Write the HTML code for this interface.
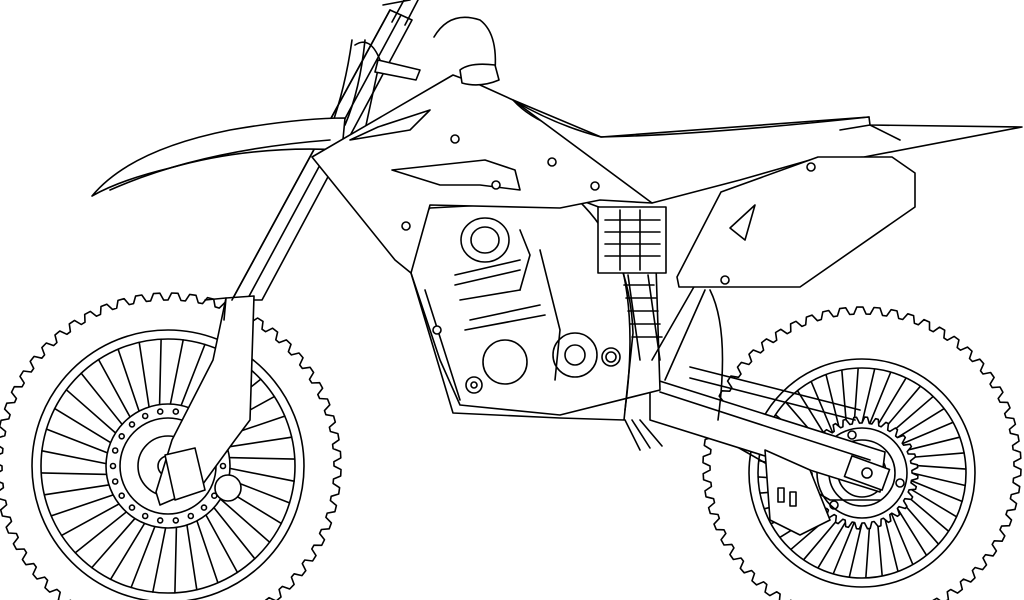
<!DOCTYPE html>
<html><head><meta charset="utf-8"><style>
html,body{margin:0;padding:0;background:#fff;width:1024px;height:600px;overflow:hidden}
svg{display:block}
</style></head><body>
<svg id="s" width="1024" height="600" viewBox="0 0 1024 600" fill="none" stroke="#000" stroke-width="1.6" stroke-linejoin="round" stroke-linecap="round">
<g id="fw"></g>
<g transform="translate(168,466)">
<circle r="136"/>
<circle r="127"/>
<g id="fsp"></g>
<circle r="62" fill="#fff"/><circle r="48"/><circle r="30"/>
<g id="fholes"></g>
<circle r="10" fill="#fff"/>
</g>
<g id="rw"></g>
<g transform="translate(862,473)">
<ellipse rx="113" ry="114"/>
<ellipse rx="104" ry="105"/>
<g id="rsp"></g>
<g id="rspr"></g>
<circle r="45" fill="#fff"/><circle r="33"/><circle r="24"/>
<circle cx="-10" cy="-38" r="4"/><circle cx="38" cy="10" r="4"/><circle cx="-28" cy="32" r="4"/>
</g>
<path d="M690 367 L860 410 M690 378 L855 420" />
<path d="M690 420 L830 500 L880 500" />
<path d="M650 378 L885 452 L880 492 L650 420 Z" fill="#fff"/>
<path d="M660 392 L870 460"/>
<rect x="847" y="462" width="40" height="22" transform="rotate(20 867 473)" fill="#fff"/>
<circle cx="867" cy="473" r="5"/>
<path d="M765 450 L810 470 L830 520 L800 535 L770 520 Z" fill="#fff"/>
<rect x="778" y="488" width="6" height="14"/><rect x="790" y="492" width="6" height="14"/>
<path d="M390 10 L232 300 L262 300 L412 20 Z" fill="#fff"/>
<path d="M401 15 L247 300"/>
<path d="M352 40 Q345 90 330 130 M365 40 Q360 90 345 125"/>
<!-- fork guard (wide) -->
<circle cx="228" cy="488" r="13" fill="#fff"/>
<path d="M226 298 L254 296 L250 420 L235 440 L200 488 L160 505 L156 492 L172 440 L213 360 Z" fill="#fff"/>
<path d="M226 298 L224 320 M205 300 L226 298"/>
<path d="M165 455 L195 448 L205 490 L175 500 Z" fill="#fff"/>
<path d="M390 10 L232 300"/>
<path d="M383 5 L410 0 M405 25 L418 0 M392 22 L404 0"/>
<path d="M434 37 Q450 10 480 20 Q500 35 494 80"/>
<path d="M355 45 Q370 35 380 60 L365 130"/>
<path d="M378 60 L420 70 L416 80 L375 72 Z" fill="#fff"/>
<path d="M92 196 Q130 150 230 130 Q300 118 345 118 L342 150 Q250 145 170 168 Q120 180 92 196 Z" fill="#fff"/>
<path d="M110 190 Q200 150 330 140"/>
<path d="M411 273 L410 230 L430 208 L580 200 L620 215 L655 235 L660 390 L560 415 L460 405 L440 360 Z" fill="#fff"/>
<path d="M411 273 L453 413 L560 418 L624 420 L633 333 Q630 250 578 200"/>
<path d="M425 290 L460 400 M610 230 Q640 300 625 410"/>
<ellipse cx="485" cy="240" rx="24" ry="22"/><ellipse cx="485" cy="240" rx="14" ry="13"/>
<path d="M455 275 L520 260 M455 285 L520 270 M460 300 L520 290 M470 320 L540 305 M465 330 L545 315"/>
<circle cx="505" cy="362" r="22"/><circle cx="575" cy="355" r="22"/><circle cx="575" cy="355" r="10"/>
<circle cx="611" cy="357" r="9"/><circle cx="611" cy="357" r="5"/>
<circle cx="474" cy="385" r="8"/><circle cx="474" cy="385" r="3"/>
<path d="M540 250 L560 330 L555 380 M520 230 L530 255 L520 290"/>
<rect x="598" y="207" width="68" height="66" fill="#fff"/>
<path d="M605 220 h55 M605 232 h55 M605 244 h55 M605 256 h55 M620 210 v60 M640 210 v60"/>
<path d="M628 275 L640 360 M648 275 L660 360"/>
<path d="M624 285 h30 M626 298 h30 M628 311 h30 M630 324 h30 M632 337 h30"/>
<path d="M652 360 L695 285 M665 380 L705 290"/>
<path d="M710 290 Q730 330 718 420"/>
<path d="M312 157 L453 75 L480 85 L513 100 L601 137 L652 203 L600 200 L560 208 L430 205 L411 273 L395 260 Z" fill="#fff"/>
<path d="M378 127 L430 110 L410 130 L350 140 Z"/>
<path d="M392 170 L485 160 L515 170 L520 190 L480 185 L440 185 Z"/>
<path d="M513 100 Q540 130 601 137"/>
<path d="M460 70 Q470 62 495 65 L499 80 Q480 88 462 83 Z" fill="#fff"/>
<path d="M513 100 Q555 125 601 137 L869 117 L870 125 L1022 127 L864 157 L810 160 L740 180 L652 203 Z" fill="#fff"/>
<path d="M601 137 Q700 135 869 117"/>
<path d="M721 192 L818 157 L892 157 L915 173 L915 207 L800 287 L679 287 L677 277 Z" fill="#fff"/>
<path d="M730 228 L755 205 L745 240 Z"/>
<path d="M840 130 L870 125 L900 140"/>
<g fill="#fff">
<circle cx="455" cy="139" r="4"/><circle cx="552" cy="162" r="4"/><circle cx="496" cy="185" r="4"/>
<circle cx="595" cy="186" r="4"/><circle cx="406" cy="226" r="4"/><circle cx="811" cy="167" r="4"/>
<circle cx="725" cy="280" r="4"/><circle cx="437" cy="330" r="4"/>
</g>
<path d="M625 420 L640 450 M632 420 L650 448 M640 420 L662 446"/>
</svg>
<script>
function tire(cx,cy,rx,ry,n,a,b){
  var d="";
  for(var i=0;i<n;i++){
    var t0=2*Math.PI*i/n, step=2*Math.PI/n;
    var pts=[[t0,a],[t0+step*0.2,b],[t0+step*0.55,b],[t0+step*0.75,a]];
    pts.forEach(function(p,j){
      var x=cx+Math.cos(p[0])*rx*p[1], y=cy+Math.sin(p[0])*ry*p[1];
      d+=(i==0&&j==0?"M":"L")+x.toFixed(1)+" "+y.toFixed(1)+" ";
    });
  }
  return '<path d="'+d+'Z" fill="#fff"/>';
}
document.getElementById("fw").innerHTML=tire(168,466,1,1,60,166,173);
document.getElementById("rw").innerHTML=tire(862,466,1,1.0,58,152,159);
function spokes(id,r1,r2,n){
  var s="";
  for(var i=0;i<n;i++){var t=2*Math.PI*i/n, t2=t+0.12;
    s+='<line x1="'+(Math.cos(t)*r1).toFixed(1)+'" y1="'+(Math.sin(t)*r1).toFixed(1)+'" x2="'+(Math.cos(t2)*r2).toFixed(1)+'" y2="'+(Math.sin(t2)*r2).toFixed(1)+'"/>';}
  document.getElementById(id).innerHTML=s;
}
spokes("fsp",50,127,36);
spokes("rsp",50,104,40);
var h="";for(var i=0;i<22;i++){var t=2*Math.PI*i/22;h+='<circle cx="'+(Math.cos(t)*55).toFixed(1)+'" cy="'+(Math.sin(t)*55).toFixed(1)+'" r="2.5"/>';}
document.getElementById("fholes").innerHTML=h;
var d="";for(var i=0;i<32;i++){var t=2*Math.PI*i/32,s=2*Math.PI/32;
 [[t,50],[t+s*0.25,56],[t+s*0.5,56],[t+s*0.75,50]].forEach(function(p,j){d+=(i==0&&j==0?"M":"L")+(Math.cos(p[0])*p[1]).toFixed(1)+" "+(Math.sin(p[0])*p[1]).toFixed(1)+" ";});}
document.getElementById("rspr").innerHTML='<path d="'+d+'Z" fill="#fff"/>';
</script>
</body></html>
